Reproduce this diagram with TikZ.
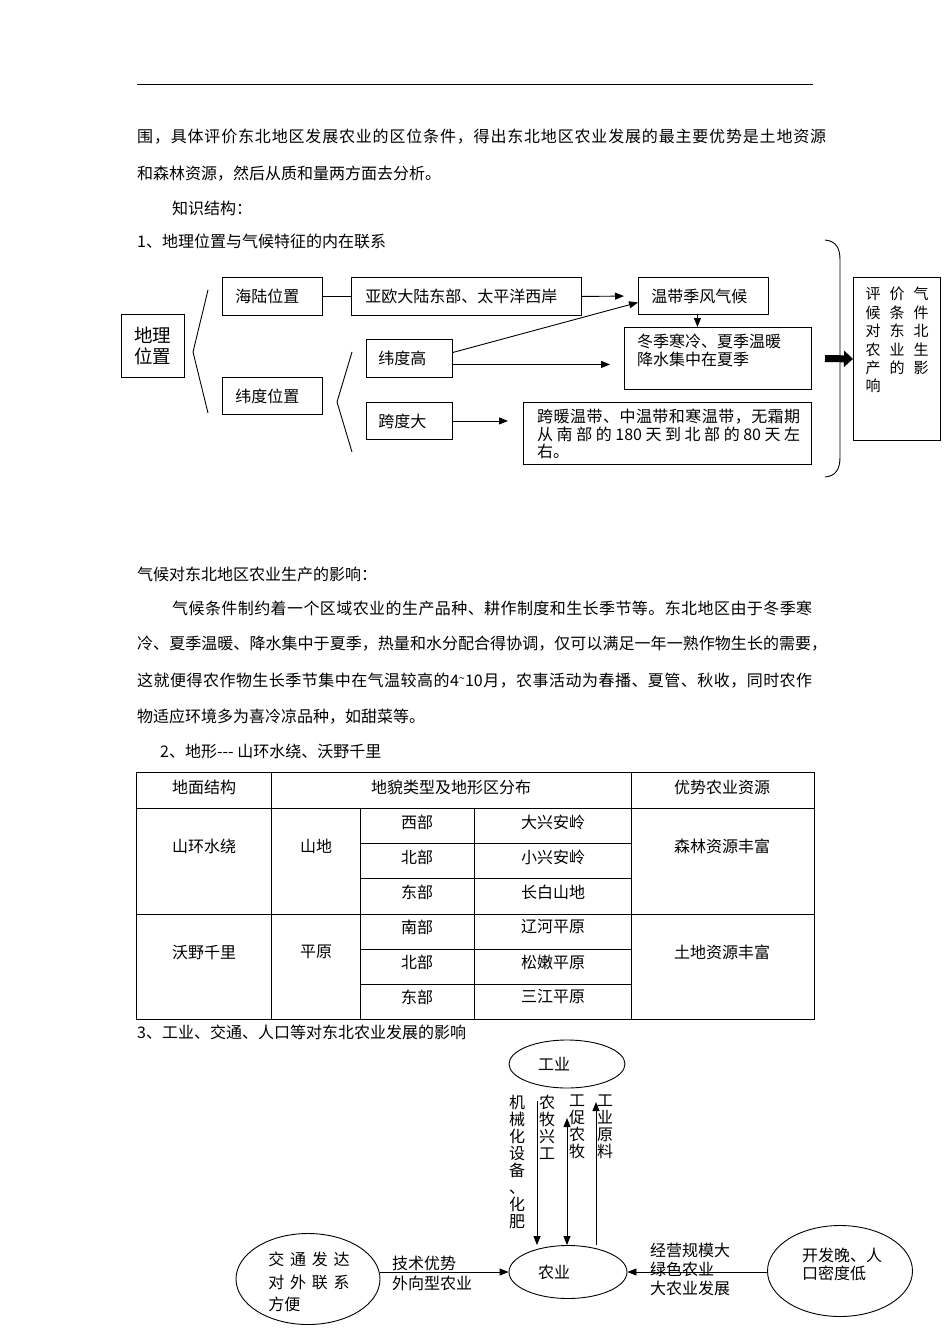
\documentclass[tikz,border=0pt]{standalone}
\usepackage{fontspec}
\setmainfont{Noto Sans CJK SC}
\usetikzlibrary{arrows.meta,shapes.geometric}
\newcommand\fsz[2]{\fontsize{#1}{#2}\selectfont}
\makeatletter
\def\spr@end{\spr@end}
\def\jline#1#2{\hbox to #1{\spr@b#2\spr@end}}
\def\spr@b#1{#1\spr@a}
\def\spr@a#1{\ifx\spr@end#1\else\hskip 0pt plus 1fil #1\expandafter\spr@a\fi}
\makeatother
\tikzset{
  txt/.style={inner sep=0pt, anchor=west, font=\fsz{16}{19}},
  ctxt/.style={inner sep=0pt, font=\fsz{16}{19}},
  bx/.style={draw, line width=0.9pt, inner xsep=13pt, inner ysep=0pt, anchor=north west, align=left, font=\fsz{16}{19}},
  ln/.style={line width=0.9pt},
  arr/.style={line width=0.9pt, -{Triangle[length=9pt,width=7pt]}},
  darr/.style={line width=0.9pt, {Triangle[length=9pt,width=7pt]}-{Triangle[length=9pt,width=7pt]}},
  bigarr/.style={line width=7pt, -{Triangle[length=9pt,width=16pt]}},
  ell/.style={draw, ellipse, inner sep=0pt, line width=0.9pt},
  tline/.style={line width=0.8pt},
  vtxt/.style={inner sep=0pt, anchor=north, align=center, font=\fsz{16}{17}},
}
\begin{document}
\begin{tikzpicture}[x=1pt,y=-1pt]
\fill[white] (0,0) rectangle (950,1344);
\useasboundingbox (0,0) rectangle (950,1344);

% header rule and intro
\draw[line width=1pt] (137,84) -- (813,84);
\node[txt] (l1) at (137,137) {\jline{689pt}{围，具体评价东北地区发展农业的区位条件，得出东北地区农业发展的最主要优势是土地资源}};
\node[txt] (l2) at (137,174) {和森林资源，然后从质和量两方面去分析。};
\node[txt] (l3) at (172,208) {知识结构：};
\node[txt] (l4) at (137,241) {1、地理位置与气候特征的内在联系};

% diagram 1
\node[bx, minimum width=63pt, minimum height=63pt, text width=37pt, align=center, font=\fsz{18.5}{21}] (dl) at (121,314) {地理\\位置};
\draw[ln] (208,290) -- (193,352) -- (208,413);
\node[bx, minimum width=100pt, minimum height=38pt, text width=74pt] (hl) at (222,277) {海陆位置};
\node[bx, minimum width=100pt, minimum height=37pt, text width=74pt] (wd) at (222,377) {纬度位置};
\node[bx, minimum width=230pt, minimum height=38pt, text width=202pt, inner xsep=14pt] (oy) at (351,277) {亚欧大陆东部、太平洋西岸};
\node[bx, minimum width=130pt, minimum height=37pt, text width=104pt] (wt) at (638,277) {温带季风气候};
\node[draw, line width=0.9pt, anchor=north west, inner sep=0pt, minimum width=187pt, minimum height=62pt] (dj) at (624,327) {};
\node[txt, anchor=north west, align=left, font=\fsz{16}{18}] (djt) at ([shift={(13pt,-7pt)}]dj.north west) {冬季寒冷、夏季温暖\\降水集中在夏季};
\draw[ln] (352,352) -- (337,402) -- (352,452);
\node[bx, minimum width=86pt, minimum height=38pt, text width=62pt, inner xsep=12pt] (wg) at (366,339) {纬度高};
\node[bx, minimum width=86pt, minimum height=37pt, text width=62pt, inner xsep=12pt] (kd) at (366,402) {跨度大};
\node[draw, line width=0.9pt, anchor=north west, inner sep=0pt, minimum width=288pt, minimum height=62pt] (kn) at (523,402) {};
\node[txt, anchor=north west, align=left, font=\fsz{16}{17.5}] (knt) at ([shift={(14pt,-7pt)}]kn.north west) {\jline{263pt}{跨暖温带、中温带和寒温带，无霜期}\\\hbox to 263pt{从\hfil 南\hfil 部\hfil 的\hfil 180\hfil 天\hfil 到\hfil 北\hfil 部\hfil 的\hfil 80\hfil 天\hfil 左}\\右。};
\node[draw, line width=0.9pt, anchor=north west, inner sep=0pt, minimum width=87pt, minimum height=163pt] (pj) at (853,277) {};
\node[inner sep=0pt, anchor=north west, align=left, font=\fsz{15}{18.4}] (pjt) at ([shift={(12.5pt,-10pt)}]pj.north west) {评\hspace{9pt}价\hspace{9pt}气\\候\hspace{9pt}条\hspace{9pt}件\\对\hspace{9pt}东\hspace{9pt}北\\农\hspace{9pt}业\hspace{9pt}生\\产\hspace{9pt}的\hspace{9pt}影\\响};

\draw[ln] (hl.east) -- (oy.west);
\draw[arr, shorten >=14pt] (oy.east) -- (wt.west);
\draw[arr] ([xshift=-6pt]wt.south) -- ([xshift=-6pt]wt.south |- dj.north);
\draw[arr] ([yshift=6pt]wg.east) -- ([yshift=-6.5pt]wt.west);
\draw[arr, shorten >=14pt] ([yshift=-6pt]wg.east) -- ([yshift=-6pt]wg.east -| dj.west);
\draw[arr, shorten >=15pt] (kd.east) -- (kd.east -| kn.west);
\draw[ln] (825,240) .. controls (836,241) and (840,248) .. (840,260) -- (840,457) .. controls (840,469) and (836,476) .. (825,477);
\coordinate (bk) at (825,358.5);
\draw[bigarr] (bk) -- (pj.west);

% climate paragraph
\node[txt] (p0) at (137,574) {气候对东北地区农业生产的影响：};
\node[txt] (p1) at (172,608) {\jline{640pt}{气候条件制约着一个区域农业的生产品种、耕作制度和生长季节等。东北地区由于冬季寒}};
\node[txt] (p2) at (137,644) {\jline{690pt}{冷、夏季温暖、降水集中于夏季，热量和水分配合得协调，仅可以满足一年一熟作物生长的需要，}};
\node[txt] (p3) at (137,681) {\jline{675pt}{这就便得农作物生长季节集中在气温较高的{{4\raisebox{0.3em}{\fsz{11}{12}\textasciitilde}10}}月，农事活动为春播、夏管、秋收，同时农作}};
\node[txt] (p4) at (137,717) {物适应环境多为喜冷凉品种，如甜菜等。};
\node[txt] (p5) at (160,751) {2、地形-{}-{}- 山环水绕、沃野千里};

% table
\draw[tline] (136,772) rectangle (814,1019);
\draw[tline] (136,808) -- (814,808);
\draw[tline] (136,914) -- (814,914);
\draw[tline] (360,843) -- (631,843);
\draw[tline] (360,878) -- (631,878);
\draw[tline] (360,949) -- (631,949);
\draw[tline] (360,984) -- (631,984);
\draw[tline] (271,772) -- (271,1019);
\draw[tline] (631,772) -- (631,1019);
\draw[tline] (360,808) -- (360,1019);
\draw[tline] (474,808) -- (474,1019);
\node[ctxt] (t01) at (204,787) {地面结构};
\node[ctxt] (t02) at (451,787) {地貌类型及地形区分布};
\node[ctxt] (t03) at (722,787) {优势农业资源};
\node[ctxt] (t11) at (204,846) {山环水绕};
\node[ctxt] (t12) at (316,846) {山地};
\node[ctxt] (t13) at (722,846) {森林资源丰富};
\node[ctxt] (t21) at (417,822) {西部};
\node[ctxt] (t22) at (553,822) {大兴安岭};
\node[ctxt] (t31) at (417,857) {北部};
\node[ctxt] (t32) at (553,857) {小兴安岭};
\node[ctxt] (t41) at (417,892) {东部};
\node[ctxt] (t42) at (553,892) {长白山地};
\node[ctxt] (t51) at (204,952) {沃野千里};
\node[ctxt] (t52) at (316,952) {平原};
\node[ctxt] (t53) at (722,952) {土地资源丰富};
\node[ctxt] (t61) at (417,927) {南部};
\node[ctxt] (t62) at (553,927) {辽河平原};
\node[ctxt] (t71) at (417,962) {北部};
\node[ctxt] (t72) at (553,962) {松嫩平原};
\node[ctxt] (t81) at (417,997) {东部};
\node[ctxt] (t82) at (553,997) {三江平原};

% diagram 3
\node[txt] (h3) at (137,1032) {3、工业、交通、人口等对东北农业发展的影响};
\node[ell, minimum width=116pt, minimum height=48pt, label={[xshift=-13pt, font=\fsz{16}{19}]center:工业}] (gy) at (567,1064) {};
\node[ell, minimum width=118pt, minimum height=53pt, label={[xshift=-14pt, font=\fsz{16}{19}]center:农业}] (ny) at (568,1272) {};
\node[ell, minimum width=144pt, minimum height=91pt, label={[xshift=1pt, yshift=-3pt, align=left, font=\fsz{16}{22.5}]center:交\hspace{5.7pt}通\hspace{5.7pt}发\hspace{5.7pt}达\\对\hspace{5.7pt}外\hspace{5.7pt}联\hspace{5.7pt}系\\方便}] (jt) at (308,1279) {};
\node[ell, minimum width=145pt, minimum height=91pt, label={[xshift=2pt, yshift=7pt, align=left, font=\fsz{16}{18}]center:开发晚、人\\口密度低}] (kf) at (840,1271) {};

\node[vtxt] (v1) at (517,1095) {机\\械\\化\\设\\备\\、\\化\\肥};
\node[vtxt] (v2) at (547,1095) {农\\牧\\兴\\工};
\node[vtxt] (v3) at (577,1095) {工\\促\\农\\牧};
\node[vtxt] (v4) at (605,1095) {工\\业\\原\\料};
\coordinate (m1) at (537,1101);
\coordinate (m2) at (567,1118);
\coordinate (m3) at (596,1102);
\draw[arr] (m1) -- (m1 |- ny.north);
\draw[darr] (m2) -- (m2 |- ny.north);
\draw[arr] (m3 |- ny.north) -- (m3);

\draw[arr] (jt.east |- ny.west) -- (ny.west);
\draw[arr] (kf.west |- ny.east) -- (ny.east);
\node[txt] (e1) at (392,1263) {技术优势};
\node[txt] (e2) at (392,1283) {外向型农业};
\node[txt] (e3) at (650,1250) {经营规模大};
\node[txt] (e4) at (650,1269) {绿色农业};
\node[txt] (e5) at (650,1288) {大农业发展};
\end{tikzpicture}
\end{document}
